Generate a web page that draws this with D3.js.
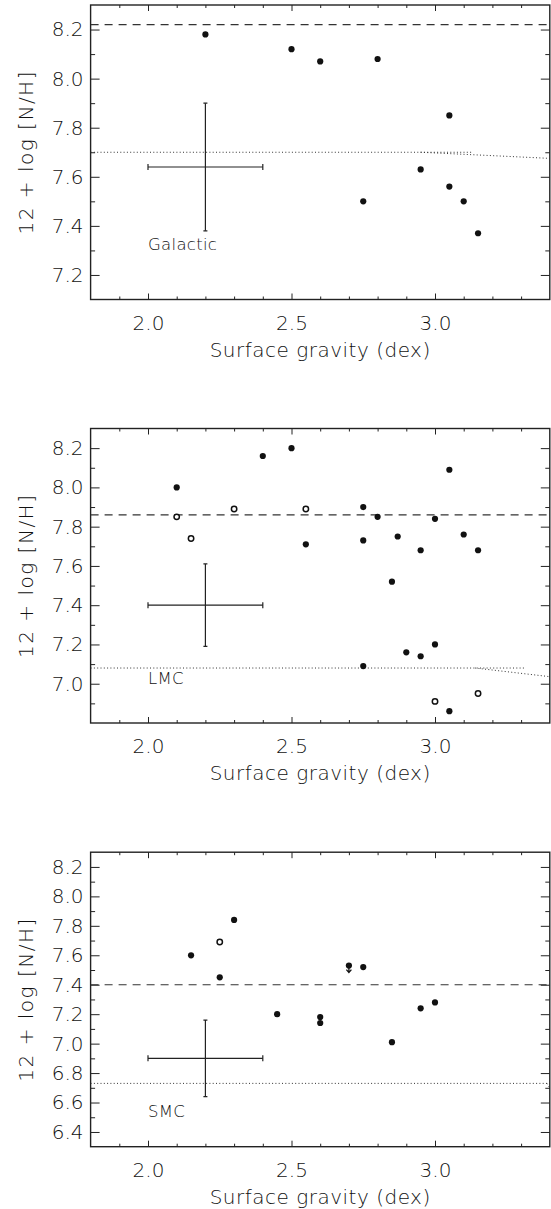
<!DOCTYPE html>
<html>
<head>
<meta charset="utf-8">
<script src="https://cdn.jsdelivr.net/npm/d3@7"></script>
<style>
  body { margin: 0; background: #fff; }
  text { font-family: "DejaVu Sans", sans-serif; font-weight: 200; fill: #111; }
</style>
</head>
<body>
<svg width="551" height="1209"></svg>
<script>
// Galactic stars: surface gravity vs 12 + log N/H
var galG = [2.2, 2.5, 2.6, 2.8, 3.05, 2.95, 2.75, 3.05, 3.1, 3.15];
var galN = [8.18, 8.12, 8.07, 8.08, 7.85, 7.63, 7.50, 7.56, 7.50, 7.37];

// LMC, filled and open symbols
var lmcG = [2.1, 2.4, 2.5, 3.05, 2.75, 2.8, 3.0, 2.55, 2.75, 2.87, 2.95, 3.1, 3.15, 2.85, 2.9, 2.95, 3.0, 2.75, 3.05];
var lmcN = [8.00, 8.16, 8.20, 8.09, 7.90, 7.85, 7.84, 7.71, 7.73, 7.75, 7.68, 7.76, 7.68, 7.52, 7.16, 7.14, 7.20, 7.09, 6.86];
var lmcOpenG = [2.1, 2.15, 2.3, 2.55, 3.15, 3.0];
var lmcOpenN = [7.85, 7.74, 7.89, 7.89, 6.95, 6.91];

// SMC
var smcG = [2.15, 2.25, 2.3, 2.7, 2.75, 2.45, 2.6, 2.6, 2.85, 2.95, 3.0];
var smcN = [7.60, 7.45, 7.84, 7.53, 7.52, 7.20, 7.18, 7.14, 7.01, 7.24, 7.28];
var smcOpenG = [2.25];
var smcOpenN = [7.69];
var smcLimitG = [2.7];   // upper limit arrow
var smcLimitN = [7.53];

// reference levels (dashed = baseline, dotted = lower level)
var dashedN = [8.22, 7.86, 7.40];
var dottedN = [7.70, 7.08, 6.73];
var dottedEnd = [3.13, 3.31, 3.4];
var slopeG = [[2.95, 3.4], [3.14, 3.4], [3.39, 3.4]];
var slopeN = [[7.70, 7.675], [7.08, 7.036], [6.73, 6.70]];

// typical error bars
var errG = [2.2, 2.2, 2.2];
var errN = [7.64, 7.40, 6.90];
var errDG = [0.2, 0.2, 0.2];
var errDN = [0.26, 0.21, 0.26];

// axes
var xDomain = [1.8, 3.4];
var xTicks = [2.0, 2.5, 3.0];
var yDomains = [[7.1, 8.3], [6.8, 8.3], [6.3, 8.3]];
var labels = ["Galactic", "LMC", "SMC"];
var labelN = [7.30, 7.00, 6.50];

var panels = [
  {g: galG, n: galN, og: [], on: [], lg: [], ln: []},
  {g: lmcG, n: lmcN, og: lmcOpenG, on: lmcOpenN, lg: [], ln: []},
  {g: smcG, n: smcN, og: smcOpenG, on: smcOpenN, lg: smcLimitG, ln: smcLimitN}
];

var svg = d3.select("svg");
var left = 90.6, right = 549.8, plotH = 294.5;
var tops = [5, 428.5, 852.2];

var x = d3.scaleLinear().domain(xDomain).range([left, right]);
var xMinor = d3.range(19, 34).map(function(d){ return d / 10; })
  .filter(function(d){ return xTicks.indexOf(d) < 0; });

function dropDomain(g){ g.select(".domain").remove(); g.selectAll("line").attr("stroke", "#222"); }

panels.forEach(function(p, i){
  var top = tops[i], bot = top + plotH;
  var dom = yDomains[i];
  var y = d3.scaleLinear().domain(dom).range([bot, top]);
  var yMajor = [], yMin = [];
  for (var v = Math.round(dom[0] * 10) + 1; v < Math.round(dom[1] * 10); v++) {
    if (v % 2 === 0) yMajor.push(v / 10); else yMin.push(v / 10);
  }
  var g = svg.append("g");

  // ticks on all four sides, pointing inward
  g.append("g").attr("transform", "translate(0," + bot + ")")
    .call(d3.axisBottom(x).tickValues(xTicks).tickSize(-6).tickPadding(16).tickFormat(d3.format(".1f")))
    .call(dropDomain)
    .selectAll("text").attr("font-size", 20).attr("fill", "#111").style("font-family", "DejaVu Sans");
  g.append("g").attr("transform", "translate(0," + bot + ")")
    .call(d3.axisBottom(x).tickValues(xMinor).tickSize(-3).tickFormat("")).call(dropDomain);
  g.append("g").attr("transform", "translate(0," + top + ")")
    .call(d3.axisTop(x).tickValues(xTicks).tickSize(-6).tickFormat("")).call(dropDomain);
  g.append("g").attr("transform", "translate(0," + top + ")")
    .call(d3.axisTop(x).tickValues(xMinor).tickSize(-3).tickFormat("")).call(dropDomain);

  g.append("g").attr("transform", "translate(" + left + ",0)")
    .call(d3.axisLeft(y).tickValues(yMajor).tickSize(-9).tickPadding(7).tickFormat(d3.format(".1f")))
    .call(dropDomain)
    .selectAll("text").attr("font-size", 20).attr("fill", "#111").style("font-family", "DejaVu Sans");
  g.append("g").attr("transform", "translate(" + left + ",0)")
    .call(d3.axisLeft(y).tickValues(yMin).tickSize(-4.5).tickFormat("")).call(dropDomain);
  g.append("g").attr("transform", "translate(" + right + ",0)")
    .call(d3.axisRight(y).tickValues(yMajor).tickSize(-9).tickFormat("")).call(dropDomain);
  g.append("g").attr("transform", "translate(" + right + ",0)")
    .call(d3.axisRight(y).tickValues(yMin).tickSize(-4.5).tickFormat("")).call(dropDomain);

  // frame
  g.append("rect").attr("x", left).attr("y", top).attr("width", right - left).attr("height", plotH)
    .attr("fill", "none").attr("stroke", "#222").attr("stroke-width", 1.4);

  // titles
  g.append("text").attr("x", (left + right) / 2).attr("y", bot + 57)
    .attr("text-anchor", "middle").attr("font-size", 20).attr("letter-spacing", 0.5)
    .text("Surface gravity (dex)");
  g.append("text").attr("transform", "translate(33," + (top + plotH / 2) + ") rotate(-90)")
    .attr("text-anchor", "middle").attr("font-size", 20).attr("letter-spacing", 1.5)
    .text("12 + log [N/H]");

  var clip = "clip" + i;
  svg.append("clipPath").attr("id", clip).append("rect")
    .attr("x", left).attr("y", top).attr("width", right - left).attr("height", plotH);
  var inner = g.append("g").attr("clip-path", "url(#" + clip + ")");

  // reference lines
  inner.append("line").attr("x1", x(xDomain[0])).attr("x2", x(xDomain[1]))
    .attr("y1", y(dashedN[i])).attr("y2", y(dashedN[i]))
    .attr("stroke", "#333").attr("stroke-width", 1.2).attr("stroke-dasharray", "8,6");
  inner.append("line").attr("x1", x(xDomain[0])).attr("x2", x(dottedEnd[i]))
    .attr("y1", y(dottedN[i])).attr("y2", y(dottedN[i]))
    .attr("stroke", "#333").attr("stroke-width", 1).attr("stroke-dasharray", "1,2.3");
  inner.append("line").attr("x1", x(slopeG[i][0])).attr("x2", x(slopeG[i][1]))
    .attr("y1", y(slopeN[i][0])).attr("y2", y(slopeN[i][1]))
    .attr("stroke", "#333").attr("stroke-width", 1).attr("stroke-dasharray", "1,2.3");

  // error bar
  var ex = x(errG[i]), ey = y(errN[i]);
  var x0 = x(errG[i] - errDG[i]), x1 = x(errG[i] + errDG[i]);
  var y0 = y(errN[i] - errDN[i]), y1 = y(errN[i] + errDN[i]);
  var eb = inner.append("g").attr("stroke", "#222").attr("stroke-width", 1.2);
  eb.append("line").attr("x1", x0).attr("x2", x1).attr("y1", ey).attr("y2", ey);
  eb.append("line").attr("x1", ex).attr("x2", ex).attr("y1", y0).attr("y2", y1);
  eb.append("line").attr("x1", x0).attr("x2", x0).attr("y1", ey - 3).attr("y2", ey + 3);
  eb.append("line").attr("x1", x1).attr("x2", x1).attr("y1", ey - 3).attr("y2", ey + 3);
  eb.append("line").attr("x1", ex - 2).attr("x2", ex + 2).attr("y1", y0).attr("y2", y0);
  eb.append("line").attr("x1", ex - 2).attr("x2", ex + 2).attr("y1", y1).attr("y2", y1);

  // panel label
  inner.append("text").attr("x", x(2.0)).attr("y", y(labelN[i]))
    .attr("font-size", 16.5).attr("letter-spacing", 0.3).text(labels[i]);

  // upper-limit arrows
  p.lg.forEach(function(d, k){
    var ax = x(d), ay = y(p.ln[k]);
    inner.append("path").attr("d", "M" + ax + "," + ay + "V" + (ay + 7) + "M" + (ax - 2.5) + "," + (ay + 4) + "L" + ax + "," + (ay + 7) + "L" + (ax + 2.5) + "," + (ay + 4))
      .attr("fill", "none").attr("stroke", "#111").attr("stroke-width", 1.3);
  });

  // filled stars
  inner.selectAll("circle.f").data(p.g).enter().append("circle").attr("class", "f")
    .attr("cx", function(d){ return x(d); })
    .attr("cy", function(d, k){ return y(p.n[k]); })
    .attr("r", 3.1).attr("fill", "#111");
  // open stars
  inner.selectAll("circle.o").data(p.og).enter().append("circle").attr("class", "o")
    .attr("cx", function(d){ return x(d); })
    .attr("cy", function(d, k){ return y(p.on[k]); })
    .attr("r", 2.7).attr("fill", "#fff").attr("stroke", "#111").attr("stroke-width", 1.5);
});
</script>
</body>
</html>
